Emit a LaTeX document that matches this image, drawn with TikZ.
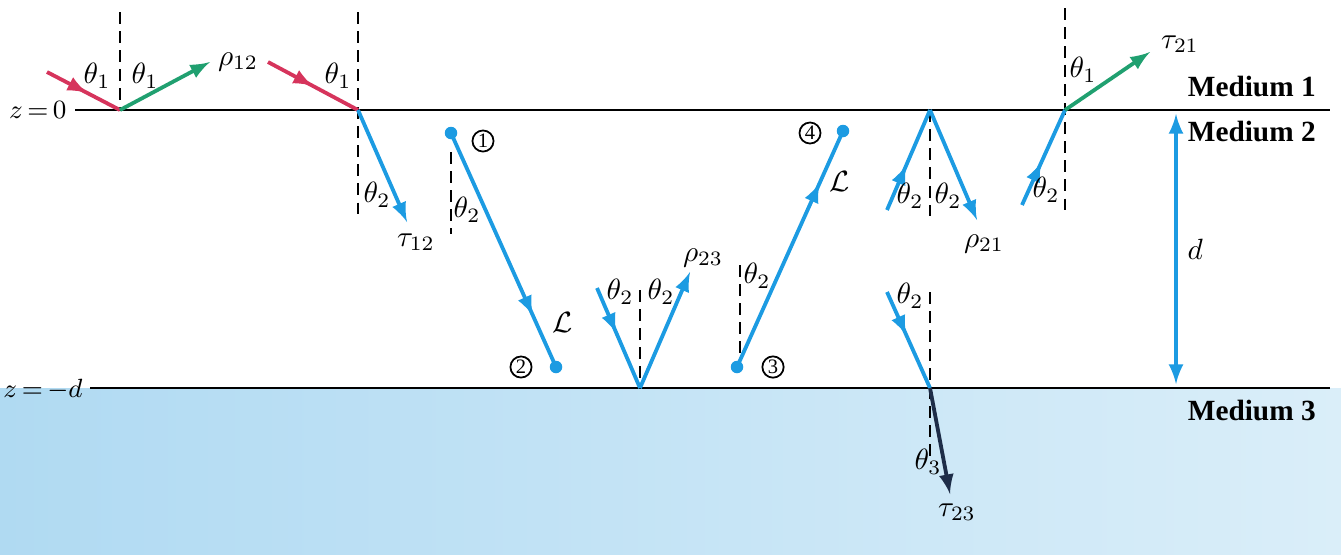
\documentclass[tikz,border=0pt]{standalone}
\usepackage{fontspec}
\setmainfont{Liberation Serif}
\usepackage{xcolor}
\usetikzlibrary{arrows}
\usetikzlibrary{decorations.markings, math}

\definecolor{raycrimson}{RGB}{214,52,92}
\definecolor{raygreen}{RGB}{32,160,112}
\definecolor{rayblue}{RGB}{28,155,226}
\definecolor{raynavy}{RGB}{30,45,72}
\definecolor{medleft}{RGB}{176,218,242}
\definecolor{medright}{RGB}{218,238,249}

\tikzset{
  ray/.style={line width=1.3pt},
  midarrow/.style={postaction={decorate},
    decoration={markings,mark=at position #1 with {\arrow{latex}}}},
  midarrow/.default=0.5,
  normline/.style={line width=0.8pt, dash pattern=on 4pt off 2.5pt},
  ptdot/.style={circle,fill=rayblue,inner sep=0pt,minimum size=0.15cm},
  ptnum/.style={circle,draw,line width=0.6pt,inner sep=0.5pt,font=\scriptsize},
  medlabel/.style={font=\bfseries, anchor=east},
  zlabel/.style={font=\small, anchor=east, inner sep=1pt}
}

\begin{document}
\begin{tikzpicture}[x=0.012cm,y=-0.012cm]
\tikzmath{
\zt=110;
\zb=388;
}
\useasboundingbox (0,0) rectangle (1341,554);

% medium 3
\shade[left color=medleft, right color=medright] (0,\zb) rectangle (1341,554);

% interfaces
\draw[line width=1pt] (75,\zt) -- (1330,\zt);
\draw[line width=1pt] (90,\zb) -- (1330,\zb);
\node[zlabel] (ztop) at (70,\zt) {$z\,{=}\,0$};
\node[zlabel] (zbot) at (86,\zb+2) {$z\,{=}\,{-d}$};

\node[medlabel] (m1) at (1326,86) {Medium 1};
\node[medlabel] (m2) at (1326,131) {Medium 2};
\node[medlabel] (m3) at (1326,410) {Medium 3};

% hit points
\coordinate (A) at (120,\zt);
\coordinate (B) at (358,\zt);
\coordinate (C) at (640,\zb);
\coordinate (D) at (930,\zt);
\coordinate (E) at (1065,\zt);
\coordinate (F) at (930,\zb);

% reflection at z=0
\draw[normline] (120,12) -- (A);
\draw[ray,raycrimson,midarrow=0.55] (47,72) -- (A);
\draw[ray,raygreen,-latex] (A) -- (210,62);
\node at (97,76) {$\theta_1$};
\node at (145,76) {$\theta_1$};
\node at (238,62) {$\rho_{12}$};

% transmission into medium 2
\draw[normline] (358,12) -- (358,214);
\draw[ray,raycrimson,midarrow=0.5] (268,62) -- (B);
\draw[ray,rayblue,-latex] (B) -- (407,222);
\node at (338,76) {$\theta_1$};
\node at (377,195) {$\theta_2$};
\node at (416,242) {$\tau_{12}$};

% path 1 -> 2
\node[ptdot] (p1) at (451,133) {};
\node[ptdot] (p2) at (556,367) {};
\draw[normline] (451,152) -- (451,234);
\draw[ray,rayblue,midarrow=0.78] (p1.center) -- (p2.center);
\node[ptnum] (n1) at (483,141) {1};
\node[ptnum] (n2) at (521,367) {2};
\node at (467,210) {$\theta_2$};
\node at (563,322) {$\mathcal{L}$};

% reflection at z=-d
\draw[normline] (640,290) -- (C);
\draw[ray,rayblue,midarrow=0.45] (597,288) -- (C);
\draw[ray,rayblue,-latex] (C) -- (690,272);
\node at (620,292) {$\theta_2$};
\node at (661,292) {$\theta_2$};
\node at (703,258) {$\rho_{23}$};

% path 3 -> 4
\node[ptdot] (p3) at (737,367) {};
\node[ptdot] (p4) at (843,131) {};
\draw[normline] (740,265) -- (740,355);
\draw[ray,rayblue,midarrow=0.78] (p3.center) -- (p4.center);
\node[ptnum] (n3) at (773,367) {3};
\node[ptnum] (n4) at (810,133) {4};
\node at (757,276) {$\theta_2$};
\node at (840,181) {$\mathcal{L}$};

% reflection at z=0 from below
\draw[normline] (D) -- (930,216);
\draw[ray,rayblue,midarrow=0.45] (887,210) -- (D);
\draw[ray,rayblue,-latex] (D) -- (977,220);
\node at (910,196) {$\theta_2$};
\node at (948,196) {$\theta_2$};
\node at (984,244) {$\rho_{21}$};

% transmission into medium 1
\draw[normline] (1065,8) -- (1065,210);
\draw[ray,rayblue,midarrow=0.45] (1022,205) -- (E);
\draw[ray,raygreen,-latex] (E) -- (1150,52);
\node at (1083,70) {$\theta_1$};
\node at (1046,190) {$\theta_2$};
\node at (1180,44) {$\tau_{21}$};

% thickness
\draw[ray,rayblue,latex-latex] (1176,\zt+4) -- (1176,\zb-4)
  node[midway,right,text=black] {$d$};

% transmission into medium 3
\draw[normline] (930,292) -- (930,458);
\draw[ray,rayblue,midarrow=0.45] (887,292) -- (F);
\draw[ray,raynavy,-latex] (F) -- (950,494);
\node at (910,296) {$\theta_2$};
\node at (928,462) {$\theta_3$};
\node at (957,512) {$\tau_{23}$};
\end{tikzpicture}
\end{document}
